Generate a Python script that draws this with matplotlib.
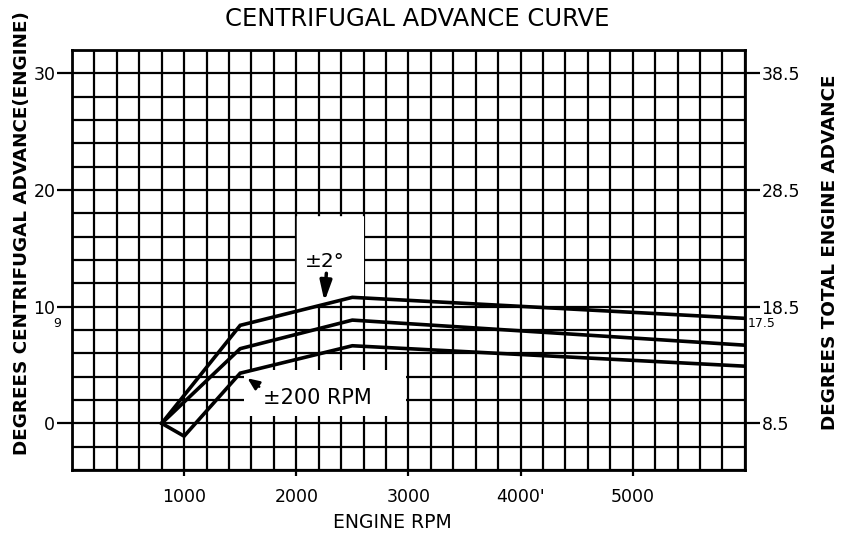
import numpy as np
import matplotlib
matplotlib.use("Agg")
import matplotlib.pyplot as plt
from matplotlib.patches import Rectangle

# ---- data ----
rpm = [800, 1500, 2500, 6000]
upper_adv = [0.0, 8.4, 10.8, 9.0]
middle_adv = [0.0, 6.4, 8.85, 6.7]
lower_rpm = [800, 1000, 1500, 2500, 6000]
lower_adv = [0.0, -1.1, 4.3, 6.65, 4.9]

x_ticks = [1000, 2000, 3000, 4000, 5000]
x_ticklabels = ["1000", "2000", "3000", "4000'", "5000"]
y_ticks = [0, 10, 20, 30]
y_ticklabels = ["0", "10", "20", "30"]
total_offset = 8.5
right_ticklabels = ["8.5", "18.5", "28.5", "38.5"]

plt.rcParams['font.family'] = ['DejaVu Sans']

fig = plt.figure(figsize=(8.41, 5.35), dpi=100)
ax = fig.add_axes([0.0856, 0.1215, 0.8, 0.785])
ax.set_xlim(0, 6000)
ax.set_ylim(-4, 32)

ax.set_xticks(x_ticks)
ax.set_xticklabels(x_ticklabels, fontsize=12.5)
ax.set_xticks(np.arange(0, 6001, 200), minor=True)
ax.set_yticks(y_ticks)
ax.set_yticklabels(y_ticklabels, fontsize=12.5)
ax.set_yticks(np.arange(-4, 33, 2), minor=True)
ax.tick_params(axis='x', which='major', length=4, width=1.6, pad=9, direction='out')
ax.tick_params(axis='y', which='major', length=11, width=1.6, pad=1, direction='out')
ax.tick_params(which='minor', length=0)
ax.grid(which='both', color='black', linewidth=1.6)
for s in ax.spines.values():
    s.set_linewidth(2.0)

# blank label boxes
xs = np.linspace(2000, 2600, 50)
ax.fill_between(xs, np.interp(xs, rpm, upper_adv) + 0.15, 17.8, color='white', zorder=1.8, lw=0)
ax.add_patch(Rectangle((1530, 0.6), 1450, 4.0, facecolor='white', edgecolor='none', zorder=1.8))

# curves
lw = 2.6
ax.plot(rpm, upper_adv, color='black', lw=lw, zorder=3, solid_joinstyle='miter')
ax.plot(rpm, middle_adv, color='black', lw=lw, zorder=3)
ax.plot(lower_rpm, lower_adv, color='black', lw=lw, zorder=3, solid_joinstyle='miter')

# annotations
ax.text(2080, 13.9, "±2°", fontsize=14.5, ha='left', va='center', zorder=4)
ax.annotate("", xy=(2250, 10.2), xytext=(2270, 13.1),
            arrowprops=dict(arrowstyle='-|>,head_length=1.2,head_width=0.35',
                            color='black', lw=2.5), zorder=4)
ax.text(1700, 2.2, "±200 RPM", fontsize=15, ha='left', va='center', zorder=4)
ax.annotate("", xy=(1545, 4.0), xytext=(1690, 3.0),
            arrowprops=dict(arrowstyle='-|>,head_length=0.7,head_width=0.3',
                            color='black', lw=1.8), zorder=4)

ax.text(-100, 8.6, "9", fontsize=9, ha='right', va='center', clip_on=False)

# right axis
ax2 = ax.twinx()
ax2.set_ylim(-4 + total_offset, 32 + total_offset)
ax2.set_yticks([t + total_offset for t in y_ticks])
ax2.set_yticklabels(right_ticklabels, fontsize=12.5)
ax2.tick_params(axis='y', length=11, width=1.6, pad=1, direction='out')
for s in ax2.spines.values():
    s.set_visible(False)
ax.text(6030, 8.6, "17.5", fontsize=9, ha='left', va='center', clip_on=False)

# titles & labels
fig.text(0.496, 1 - 19 / 535, "CENTRIFUGAL ADVANCE CURVE", fontsize=17.5,
         ha='center', va='center')
fig.text(392 / 841, 1 - 523 / 535, "ENGINE RPM", fontsize=13.5, ha='center', va='center')
fig.text(22 / 841, 1 - 233 / 535, "DEGREES CENTRIFUGAL ADVANCE(ENGINE)", fontsize=13.2,
         fontweight='bold', rotation=90, ha='center', va='center')
fig.text(830 / 841, 1 - 252 / 535, "DEGREES TOTAL ENGINE ADVANCE", fontsize=13.2,
         fontweight='bold', rotation=90, ha='center', va='center')

fig.savefig("out.png", dpi=100)
